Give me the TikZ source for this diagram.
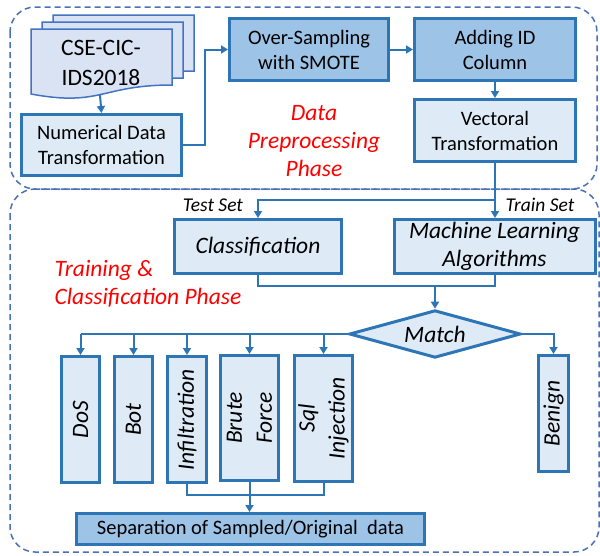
\documentclass[tikz,border=0pt]{standalone}
\usepackage{fontspec}
\setmainfont{Carlito}
\usepackage{tikz}
\usetikzlibrary{shapes.geometric,arrows.meta,positioning}

\definecolor{edgeblue}{HTML}{2E75B6}
\definecolor{lightfill}{HTML}{DEEBF7}
\definecolor{darkfill}{HTML}{9DC3E6}
\definecolor{dashblue}{HTML}{4A70B5}
\definecolor{pagefill}{HTML}{DAE3F3}
\definecolor{pageedge}{HTML}{4472C4}

\begin{document}
\begin{tikzpicture}[x=1pt,y=-1pt,
    box/.style={draw=edgeblue,line width=3pt,fill=lightfill,align=center,
      inner sep=2pt,font=\fontsize{20.5}{25}\selectfont},
    darkbox/.style={box,fill=darkfill},
    ibox/.style={box,font=\fontsize{23.5}{28}\selectfont\itshape},
    leaf/.style={ibox,rotate=90,font=\fontsize{23.5}{30}\selectfont\itshape},
    link/.style={edgeblue,line width=2pt},
    conn/.style={link,-{Triangle[length=7pt,width=8pt]}},
    phase/.style={dashblue,line width=1.5pt,dash pattern=on 6pt off 4pt,
      rounded corners=25pt},
    phasename/.style={red,font=\fontsize{23.5}{28}\selectfont\itshape},
    setname/.style={font=\fontsize{19.5}{22}\selectfont\itshape},
    docpage/.style={draw=pageedge,line width=1.5pt,fill=pagefill}
  ]

  \useasboundingbox (0,0) rectangle (600,555);

  % the two phases
  \draw[phase] (10,7) rectangle (597,189);
  \draw[phase] (10,189) rectangle (599,552);

  % stacked data files
  \foreach \d in {2,1,0}{
    \draw[docpage,shift={(\d*11,-\d*7)}] (31,29) -- (172,29) -- (172,85)
      .. controls (101,85) and (101,107) .. (31,94) -- cycle;
  }
  \node[align=center,font=\fontsize{23.5}{30}\selectfont] (cse) at (101,63) {CSE-CIC-\\IDS2018};
  \coordinate (docbase) at (100,95);

  % preprocessing
  \node[box,minimum width=160pt,minimum height=61pt] (num) at (101.5,145) {Numerical Data\\Transformation};
  \node[darkbox,minimum width=159pt,minimum height=62pt] (smote) at (309,49.5) {Over-Sampling\\with SMOTE};
  \node[darkbox,minimum width=161pt,minimum height=62pt] (addid) at (495,49.5) {Adding ID\\Column};
  \node[box,minimum width=161pt,minimum height=62pt] (vect) at (495,130.5) {Vectoral\\Transformation};

  \node[phasename,align=center] (prepname) at (314,141) {Data\\Preprocessing\\Phase};

  \draw[conn] (docbase) -- (num.north);
  \draw[conn] (num.east) -- ++(22,0) |- (smote.west);
  \draw[conn] (smote) -- (addid);
  \draw[conn] (addid) -- (vect);

  % training and classification
  \node[ibox,minimum width=167pt,minimum height=54pt] (classif) at (258,246.5) {Classification};
  \node[ibox,minimum width=201pt,minimum height=54pt] (mla) at (494.5,246.5) {Machine Learning\\Algorithms};
  \node[ibox,shape=diamond,shape aspect=3.6,inner xsep=0pt,inner ysep=7pt] (match) at (435,334) {Match};

  \node[setname] (testset) at (213,205) {Test Set};
  \node[setname] (trainset) at (540,205) {Train Set};
  \node[phasename,align=left,anchor=west] (trainname) at (51,284) {Training \&\\Classification Phase};

  \coordinate (split) at (495,200);
  \coordinate (merge) at (435,286);
  \draw[conn] (vect.south) -- (vect.south |- mla.north);
  \draw[conn] (split) -| (classif.north);
  \draw[link] (classif.south) |- (merge);
  \draw[link] (mla.south) |- (merge);
  \draw[conn] (merge) -- (match.north);

  % attack classes
  \node[leaf,minimum width=126pt,minimum height=38pt] (dos) at (80.5,419.5) {DoS};
  \node[leaf,minimum width=126pt,minimum height=38pt] (bot) at (133.5,419.5) {Bot};
  \node[leaf,minimum width=126pt,minimum height=39pt] (inf) at (187,419.5) {Infiltration};
  \node[leaf,minimum width=125pt,minimum height=58pt] (brute) at (249.5,418) {Brute\\Force};
  \node[leaf,minimum width=126pt,minimum height=58pt] (sql) at (323.5,418.5) {Sql\\Injection};
  \node[leaf,minimum width=116pt,minimum height=30pt] (benign) at (553.5,413.5) {Benign};

  \node[darkbox,minimum width=348pt,minimum height=31pt] (sep) at (250.5,529) {Separation of Sampled/Original\ \ data};

  \draw[link] (match.west) -- (dos.east |- match.west);
  \foreach \n in {dos,bot,inf,brute,sql}
    \draw[conn] (\n.east |- match.west) -- (\n.east);
  \draw[conn] (match.east) -| (benign.east);

  \coordinate (gather) at (249.5,495);
  \draw[link] (inf.west) |- (gather) -| (sql.west);
  \draw[conn] (brute.west) -- (brute.west |- sep.north);

\end{tikzpicture}
\end{document}
